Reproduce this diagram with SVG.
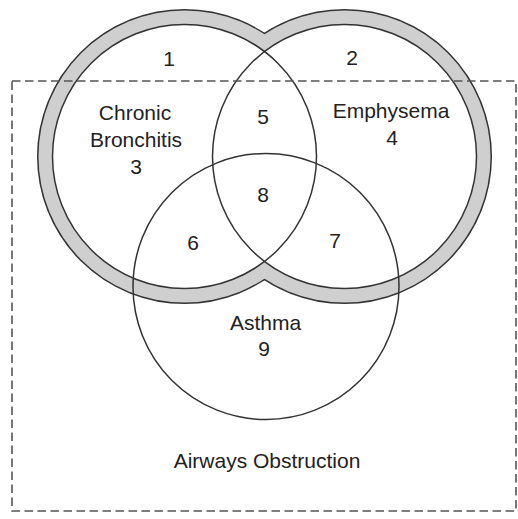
<svg xmlns="http://www.w3.org/2000/svg" width="518" height="519" viewBox="0 0 518 519">
<defs>
<style>
.lbl{font-family:"Liberation Sans",Arial,sans-serif;font-size:21px;fill:#222;text-anchor:middle}
.ring-line{fill:none;stroke:#333;stroke-width:3}
.ring-fill{fill:#cfcfcf;stroke:none}
.inner-fill{fill:#fff;stroke:none}
.thin{fill:none;stroke:#333;stroke-width:1.5}
.dash{fill:none;stroke:#555;stroke-width:1.6;stroke-dasharray:8.5 4.5}
</style>
</defs>
<rect width="518" height="519" fill="#fff"/>
<g id="ring">
<circle class="ring-line" cx="184.5" cy="156.5" r="146"/>
<circle class="ring-line" cx="344.5" cy="156.5" r="146"/>
<circle class="ring-fill" cx="184.5" cy="156.5" r="146"/>
<circle class="ring-fill" cx="344.5" cy="156.5" r="146"/>
<circle class="inner-fill" cx="184.5" cy="156.5" r="132"/>
<circle class="inner-fill" cx="344.5" cy="156.5" r="132"/>
</g>
<g id="chronic-bronchitis">
<circle class="thin" cx="184.5" cy="156.5" r="132"/>
<text class="lbl" x="135" y="120">Chronic</text>
<text class="lbl" x="136" y="147">Bronchitis</text>
<text class="lbl" x="136" y="174">3</text>
</g>
<g id="emphysema">
<circle class="thin" cx="344.5" cy="156.5" r="132"/>
<text class="lbl" x="391" y="118">Emphysema</text>
<text class="lbl" x="392" y="145">4</text>
</g>
<g id="asthma">
<circle class="thin" cx="266" cy="286.5" r="133"/>
<text class="lbl" x="265.5" y="330">Asthma</text>
<text class="lbl" x="264" y="356">9</text>
</g>
<g id="airways-obstruction">
<rect class="dash" x="12" y="81" width="504" height="430"/>
<text class="lbl" x="267" y="468">Airways Obstruction</text>
</g>
<g id="region-numbers">
<text class="lbl" x="169" y="66">1</text>
<text class="lbl" x="352" y="65">2</text>
<text class="lbl" x="263" y="124">5</text>
<text class="lbl" x="263" y="202">8</text>
<text class="lbl" x="193" y="250">6</text>
<text class="lbl" x="335" y="248">7</text>
</g>
<g id="connectors"></g>
</svg>
